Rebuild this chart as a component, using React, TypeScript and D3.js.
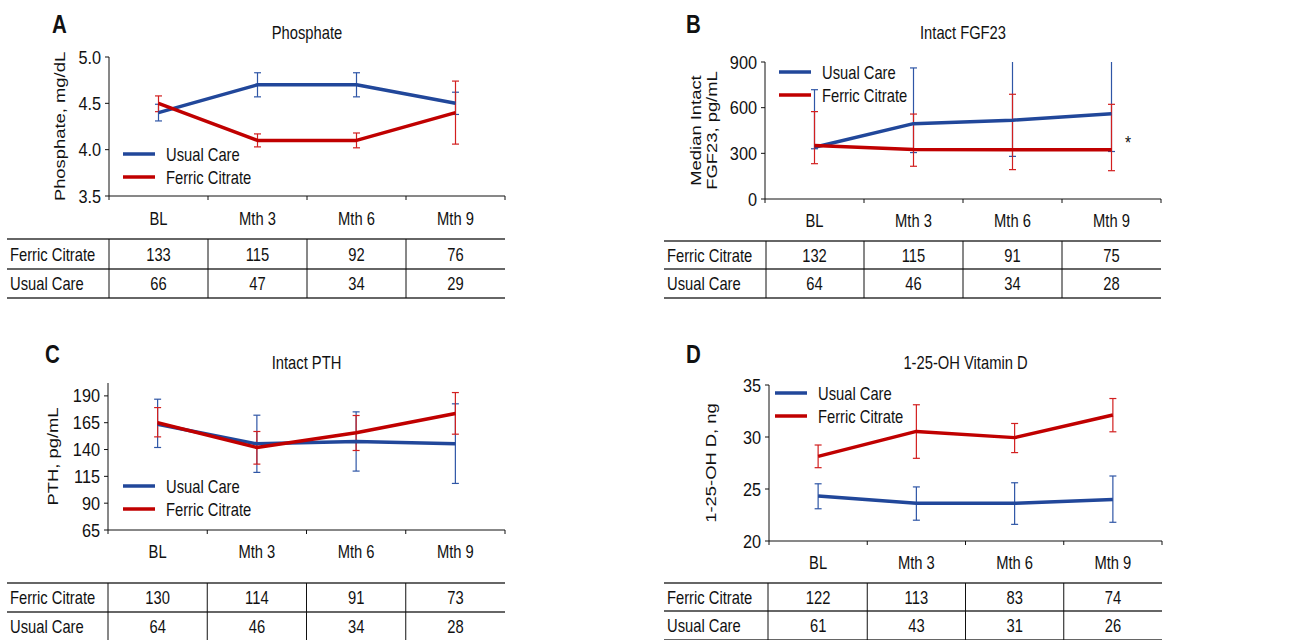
import React from "react";
import * as d3 from "d3";

// ---------- DATA ----------
const categories = ["BL", "Mth 3", "Mth 6", "Mth 9"];
const seriesNames = ["Usual Care", "Ferric Citrate"];
const tableRowNames = ["Ferric Citrate", "Usual Care"];

// A: Phosphate
const phosTicks = [3.5, 4.0, 4.5, 5.0];
const phosUsual = [4.4, 4.7, 4.7, 4.5];
const phosUsualLo = [4.31, 4.57, 4.57, 4.38];
const phosUsualHi = [4.49, 4.83, 4.83, 4.62];
const phosFerric = [4.5, 4.1, 4.1, 4.4];
const phosFerricLo = [4.41, 4.03, 4.02, 4.06];
const phosFerricHi = [4.58, 4.17, 4.18, 4.74];
const phosNFerric = [133, 115, 92, 76];
const phosNUsual = [66, 47, 34, 29];

// B: Intact FGF23
const fgfTicks = [0, 300, 600, 900];
const fgfUsual = [340, 495, 518, 560];
const fgfUsualLo = [330, 305, 280, 312];
const fgfUsualHi = [718, 861, 1000, 1000];
const fgfFerric = [352, 325, 323, 323];
const fgfFerricLo = [232, 215, 193, 186];
const fgfFerricHi = [574, 558, 688, 622];
const fgfNFerric = [132, 115, 91, 75];
const fgfNUsual = [64, 46, 34, 28];

// C: Intact PTH
const pthTicks = [65, 90, 115, 140, 165, 190];
const pthUsual = [163.6, 145.3, 147.5, 145.3];
const pthUsualLo = [141.9, 118.7, 119.9, 108.4];
const pthUsualHi = [186.9, 172, 175.1, 182.6];
const pthFerric = [165, 141.9, 155.6, 173.6];
const pthFerricLo = [151.8, 126.4, 139.1, 154.3];
const pthFerricHi = [179.1, 156.8, 171.7, 193.1];
const pthNFerric = [130, 114, 91, 73];
const pthNUsual = [64, 46, 34, 28];

// D: 1-25-OH Vitamin D
const vitTicks = [20, 25, 30, 35];
const vitUsual = [24.33, 23.62, 23.62, 24.0];
const vitUsualLo = [23.1, 22.0, 21.6, 21.8];
const vitUsualHi = [25.5, 25.2, 25.6, 26.25];
const vitFerric = [28.14, 30.54, 29.94, 32.12];
const vitFerricLo = [27.05, 27.95, 28.5, 30.5];
const vitFerricHi = [29.23, 33.1, 31.3, 33.7];
const vitNFerric = [122, 113, 83, 74];
const vitNUsual = [61, 43, 31, 26];

// ---------- STYLE / LAYOUT ----------
const BLUE = "#21479a";
const RED = "#c00000";
const BLUE_ERR = "#2f56a6";
const RED_ERR = "#d21f1f";
const FONT = "'Liberation Sans', Arial, Helvetica, sans-serif";
const SX = 0.82; // horizontal compression of the original figure

type TProps = {
  x: number; y: number; size: number; anchor?: string; weight?: string;
  rotate?: boolean; sx?: number; children: React.ReactNode;
};
function T({ x, y, size, anchor = "start", weight = "normal", rotate = false, sx = SX, children }: TProps) {
  return (
    <text
      transform={`translate(${x},${y}) scale(${sx},1)${rotate ? " rotate(-90)" : ""}`}
      fontSize={size}
      textAnchor={anchor}
      fontWeight={weight}
      fill="#111"
    >
      {children}
    </text>
  );
}

type Panel = {
  letter: string;
  title: string;
  yTitle: string[];
  yTitleX: number[];
  domain: [number, number];
  ticks: number[];
  fmt: (v: number) => string;
  usual: number[]; usualLo: number[]; usualHi: number[];
  ferric: number[]; ferricLo: number[]; ferricHi: number[];
  nFerric: number[]; nUsual: number[];
  axisX: number; right: number; yTop: number; yBot: number;
  tableLeft: number; tableDiv: number; tableLines: number[];
  legendX: number; legendY: number;
  letterX: number; letterY: number; titleY: number; xLabelY: number;
  star?: [number, number];
};

const panels: Panel[] = [
  {
    letter: "A", title: "Phosphate", yTitle: ["Phosphate, mg/dL"], yTitleX: [65],
    domain: [3.5, 5.0], ticks: phosTicks, fmt: d3.format(".1f"),
    usual: phosUsual, usualLo: phosUsualLo, usualHi: phosUsualHi,
    ferric: phosFerric, ferricLo: phosFerricLo, ferricHi: phosFerricHi,
    nFerric: phosNFerric, nUsual: phosNUsual,
    axisX: 109, right: 505, yTop: 57, yBot: 196,
    tableLeft: 7, tableDiv: 109, tableLines: [239, 269, 298],
    legendX: 123, legendY: 154, letterX: 52, letterY: 33, titleY: 38.5, xLabelY: 224.5,
  },
  {
    letter: "B", title: "Intact FGF23", yTitle: ["Median Intact", "FGF23, pg/mL"], yTitleX: [701, 717],
    domain: [0, 900], ticks: fgfTicks, fmt: d3.format("d"),
    usual: fgfUsual, usualLo: fgfUsualLo, usualHi: fgfUsualHi,
    ferric: fgfFerric, ferricLo: fgfFerricLo, ferricHi: fgfFerricHi,
    nFerric: fgfNFerric, nUsual: fgfNUsual,
    axisX: 765, right: 1161, yTop: 62, yBot: 199,
    tableLeft: 664, tableDiv: 766, tableLines: [241, 269, 298],
    legendX: 779, legendY: 72, letterX: 686, letterY: 33, titleY: 38.5, xLabelY: 226.5,
    star: [1128, 149],
  },
  {
    letter: "C", title: "Intact PTH", yTitle: ["PTH, pg/mL"], yTitleX: [58],
    domain: [65, 202], ticks: pthTicks, fmt: d3.format("d"),
    usual: pthUsual, usualLo: pthUsualLo, usualHi: pthUsualHi,
    ferric: pthFerric, ferricLo: pthFerricLo, ferricHi: pthFerricHi,
    nFerric: pthNFerric, nUsual: pthNUsual,
    axisX: 108, right: 505, yTop: 383, yBot: 530,
    tableLeft: 7, tableDiv: 108, tableLines: [583, 612, 641],
    legendX: 123, legendY: 486, letterX: 45, letterY: 363, titleY: 368.5, xLabelY: 557.5,
  },
  {
    letter: "D", title: "1-25-OH Vitamin D", yTitle: ["1-25-OH D, ng"], yTitleX: [716],
    domain: [20, 35], ticks: vitTicks, fmt: d3.format("d"),
    usual: vitUsual, usualLo: vitUsualLo, usualHi: vitUsualHi,
    ferric: vitFerric, ferricLo: vitFerricLo, ferricHi: vitFerricHi,
    nFerric: vitNFerric, nUsual: vitNUsual,
    axisX: 769, right: 1162, yTop: 385, yBot: 541,
    tableLeft: 664, tableDiv: 768, tableLines: [583, 611, 640],
    legendX: 775, legendY: 393, letterX: 686, letterY: 363, titleY: 368.5, xLabelY: 568.5,
  },
];

function PanelView({ p, idx }: { p: Panel; idx: number }) {
  const x = d3.scaleBand<string>().domain(categories).range([p.axisX, p.right]).padding(0);
  const y = d3.scaleLinear().domain(p.domain).range([p.yBot, p.yTop]);
  const cx = (c: string) => (x(c) as number) + x.bandwidth() / 2;
  const line = d3.line<number>().x((_, i) => cx(categories[i])).y((v) => y(v));
  const clipId = `clip${idx}`;
  const edges = [...categories.map((c) => x(c) as number), p.right];
  const midX = (p.axisX + p.right) / 2;
  const yMid = (p.yTop + p.yBot) / 2;

  const errBars = (lo: number[], hi: number[], color: string) =>
    categories.map((c, i) => {
      const xx = cx(c);
      return (
        <g key={c} stroke={color} strokeWidth={1.2}>
          <line x1={xx} x2={xx} y1={y(lo[i])} y2={y(hi[i])} />
          <line x1={xx - 3.5} x2={xx + 3.5} y1={y(lo[i])} y2={y(lo[i])} />
          <line x1={xx - 3.5} x2={xx + 3.5} y1={y(hi[i])} y2={y(hi[i])} />
        </g>
      );
    });

  const tDivs = [p.tableDiv, ...edges.slice(1, 4)];
  const colX = (i: number) => cx(categories[i]);
  const tableRows = [p.nFerric, p.nUsual];

  return (
    <g fontFamily={FONT}>
      <defs>
        <clipPath id={clipId}>
          <rect x={p.axisX - 10} y={p.yTop} width={p.right - p.axisX + 20} height={p.yBot - p.yTop + 60} />
        </clipPath>
      </defs>
      <T x={p.letterX} y={p.letterY} size={25} weight="bold">{p.letter}</T>
      <T x={midX} y={p.titleY} size={18} anchor="middle">{p.title}</T>
      {p.yTitle.map((t, i) => (
        <T key={t} x={p.yTitleX[i]} y={yMid} size={18.4} anchor="middle" rotate>{t}</T>
      ))}

      {/* axes */}
      <g stroke="#111" strokeWidth={1}>
        <line x1={p.axisX} x2={p.axisX} y1={p.yTop} y2={p.yBot} />
        <line x1={p.axisX} x2={p.right} y1={p.yBot} y2={p.yBot} />
        {p.ticks.map((t) => (
          <line key={t} x1={p.axisX - 4} x2={p.axisX} y1={y(t)} y2={y(t)} />
        ))}
        {edges.map((e, i) => (
          <line key={i} x1={e} x2={e} y1={p.yBot} y2={p.yBot + 4} />
        ))}
      </g>
      {p.ticks.map((t) => (
        <T key={t} x={p.axisX - 8} y={y(t) + 6.5} size={18.5} sx={0.88} anchor="end">{p.fmt(t)}</T>
      ))}
      {categories.map((c) => (
        <T key={c} x={cx(c)} y={p.xLabelY} size={18} anchor="middle">{c}</T>
      ))}

      {/* data */}
      <g clipPath={`url(#${clipId})`}>
        {errBars(p.usualLo, p.usualHi, BLUE_ERR)}
        {errBars(p.ferricLo, p.ferricHi, RED_ERR)}
        <path d={line(p.usual) || ""} fill="none" stroke={BLUE} strokeWidth={3.5} strokeLinejoin="round" />
        <path d={line(p.ferric) || ""} fill="none" stroke={RED} strokeWidth={3.5} strokeLinejoin="round" />
      </g>
      {p.star && (
        <T x={p.star[0]} y={p.star[1]} size={19} anchor="middle">*</T>
      )}

      {/* legend */}
      {seriesNames.map((s, i) => {
        const ly = p.legendY + i * 23;
        return (
          <g key={s}>
            <line x1={p.legendX} x2={p.legendX + 32} y1={ly} y2={ly} stroke={i === 0 ? BLUE : RED} strokeWidth={3.5} />
            <T x={p.legendX + 43} y={ly + 6.5} size={18}>{s}</T>
          </g>
        );
      })}

      {/* table */}
      <g>
        {p.tableLines.map((ly, i) => (
          <line key={i} x1={p.tableLeft} x2={p.right} y1={ly} y2={ly} stroke="#333" strokeWidth={1.6} />
        ))}
        {tDivs.map((dx, i) => (
          <line key={i} x1={dx} x2={dx} y1={p.tableLines[0]} y2={p.tableLines[2]} stroke="#111" strokeWidth={1} />
        ))}
        {tableRowNames.map((rn, r) => {
          const ty = (p.tableLines[r] + p.tableLines[r + 1]) / 2 + 6.5;
          return (
            <g key={rn}>
              <T x={p.tableLeft + 3} y={ty} size={18}>{rn}</T>
              {tableRows[r].map((v, i) => (
                <T key={i} x={colX(i)} y={ty} size={18} anchor="middle">{v}</T>
              ))}
            </g>
          );
        })}
      </g>
    </g>
  );
}

export default function App() {
  return (
    <svg width={1292} height={640} style={{ position: "absolute", left: 0, top: 0, background: "#fff" }}>
      <rect width={1292} height={640} fill="#fff" />
      {panels.map((p, i) => (
        <PanelView key={p.letter} p={p} idx={i} />
      ))}
    </svg>
  );
}
